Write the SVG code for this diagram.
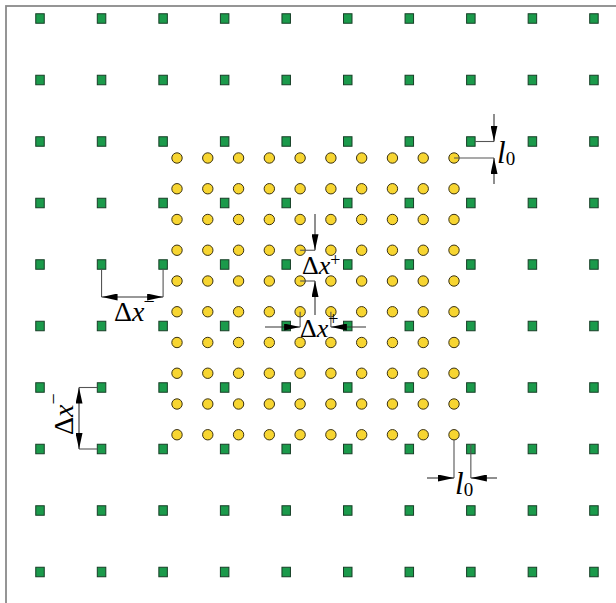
<svg xmlns="http://www.w3.org/2000/svg" xmlns:xlink="http://www.w3.org/1999/xlink" width="616" height="603" viewBox="0 0 616 603">
<style>
.sq{fill:#1b9a4b;stroke:#173f27;stroke-width:1}
.ci{fill:#f7d531;stroke:#3a3214;stroke-width:1}
.ext{stroke:#555;stroke-width:1.1;fill:none}
.dim{stroke:#333;stroke-width:1.1;fill:none}
.arr{marker-end:url(#ah)}
.dbl{marker-start:url(#ah);marker-end:url(#ah)}
.lbl{font-family:"Liberation Serif","Times New Roman",serif;fill:#000}
</style>
<defs>
<marker id="ah" viewBox="0 0 16 7" refX="16" refY="3.5" markerWidth="16" markerHeight="7" markerUnits="userSpaceOnUse" orient="auto-start-reverse">
<path d="M0,0 L16,3.5 L0,7 Z" fill="#000"/>
</marker>
<rect id="sq" class="sq" x="-4.25" y="-4.75" width="8.5" height="9.5"/>
<circle id="ci" class="ci" r="5.2"/>
</defs>
<rect x="6" y="6" width="640" height="640" fill="#fff" stroke="#8a8a8a" stroke-width="1.8"/>
<g id="squares">
<g transform="translate(0,18.5)"><use xlink:href="#sq" x="40"/><use xlink:href="#sq" x="101.55"/><use xlink:href="#sq" x="163.1"/><use xlink:href="#sq" x="224.65"/><use xlink:href="#sq" x="286.2"/><use xlink:href="#sq" x="347.75"/><use xlink:href="#sq" x="409.3"/><use xlink:href="#sq" x="470.85"/><use xlink:href="#sq" x="532.4"/><use xlink:href="#sq" x="593.95"/></g>
<g transform="translate(0,80)"><use xlink:href="#sq" x="40"/><use xlink:href="#sq" x="101.55"/><use xlink:href="#sq" x="163.1"/><use xlink:href="#sq" x="224.65"/><use xlink:href="#sq" x="286.2"/><use xlink:href="#sq" x="347.75"/><use xlink:href="#sq" x="409.3"/><use xlink:href="#sq" x="470.85"/><use xlink:href="#sq" x="532.4"/><use xlink:href="#sq" x="593.95"/></g>
<g transform="translate(0,141.5)"><use xlink:href="#sq" x="40"/><use xlink:href="#sq" x="101.55"/><use xlink:href="#sq" x="163.1"/><use xlink:href="#sq" x="224.65"/><use xlink:href="#sq" x="286.2"/><use xlink:href="#sq" x="347.75"/><use xlink:href="#sq" x="409.3"/><use xlink:href="#sq" x="470.85"/><use xlink:href="#sq" x="532.4"/><use xlink:href="#sq" x="593.95"/></g>
<g transform="translate(0,203)"><use xlink:href="#sq" x="40"/><use xlink:href="#sq" x="101.55"/><use xlink:href="#sq" x="163.1"/><use xlink:href="#sq" x="224.65"/><use xlink:href="#sq" x="286.2"/><use xlink:href="#sq" x="347.75"/><use xlink:href="#sq" x="409.3"/><use xlink:href="#sq" x="470.85"/><use xlink:href="#sq" x="532.4"/><use xlink:href="#sq" x="593.95"/></g>
<g transform="translate(0,264.5)"><use xlink:href="#sq" x="40"/><use xlink:href="#sq" x="101.55"/><use xlink:href="#sq" x="163.1"/><use xlink:href="#sq" x="224.65"/><use xlink:href="#sq" x="286.2"/><use xlink:href="#sq" x="347.75"/><use xlink:href="#sq" x="409.3"/><use xlink:href="#sq" x="470.85"/><use xlink:href="#sq" x="532.4"/><use xlink:href="#sq" x="593.95"/></g>
<g transform="translate(0,326)"><use xlink:href="#sq" x="40"/><use xlink:href="#sq" x="101.55"/><use xlink:href="#sq" x="163.1"/><use xlink:href="#sq" x="224.65"/><use xlink:href="#sq" x="286.2"/><use xlink:href="#sq" x="347.75"/><use xlink:href="#sq" x="409.3"/><use xlink:href="#sq" x="470.85"/><use xlink:href="#sq" x="532.4"/><use xlink:href="#sq" x="593.95"/></g>
<g transform="translate(0,387.5)"><use xlink:href="#sq" x="40"/><use xlink:href="#sq" x="101.55"/><use xlink:href="#sq" x="163.1"/><use xlink:href="#sq" x="224.65"/><use xlink:href="#sq" x="286.2"/><use xlink:href="#sq" x="347.75"/><use xlink:href="#sq" x="409.3"/><use xlink:href="#sq" x="470.85"/><use xlink:href="#sq" x="532.4"/><use xlink:href="#sq" x="593.95"/></g>
<g transform="translate(0,449)"><use xlink:href="#sq" x="40"/><use xlink:href="#sq" x="101.55"/><use xlink:href="#sq" x="163.1"/><use xlink:href="#sq" x="224.65"/><use xlink:href="#sq" x="286.2"/><use xlink:href="#sq" x="347.75"/><use xlink:href="#sq" x="409.3"/><use xlink:href="#sq" x="470.85"/><use xlink:href="#sq" x="532.4"/><use xlink:href="#sq" x="593.95"/></g>
<g transform="translate(0,510.5)"><use xlink:href="#sq" x="40"/><use xlink:href="#sq" x="101.55"/><use xlink:href="#sq" x="163.1"/><use xlink:href="#sq" x="224.65"/><use xlink:href="#sq" x="286.2"/><use xlink:href="#sq" x="347.75"/><use xlink:href="#sq" x="409.3"/><use xlink:href="#sq" x="470.85"/><use xlink:href="#sq" x="532.4"/><use xlink:href="#sq" x="593.95"/></g>
<g transform="translate(0,572)"><use xlink:href="#sq" x="40"/><use xlink:href="#sq" x="101.55"/><use xlink:href="#sq" x="163.1"/><use xlink:href="#sq" x="224.65"/><use xlink:href="#sq" x="286.2"/><use xlink:href="#sq" x="347.75"/><use xlink:href="#sq" x="409.3"/><use xlink:href="#sq" x="470.85"/><use xlink:href="#sq" x="532.4"/><use xlink:href="#sq" x="593.95"/></g>
</g>
<g id="circles">
<g transform="translate(0,158)"><use xlink:href="#ci" x="177"/><use xlink:href="#ci" x="207.78"/><use xlink:href="#ci" x="238.56"/><use xlink:href="#ci" x="269.33"/><use xlink:href="#ci" x="300.11"/><use xlink:href="#ci" x="330.89"/><use xlink:href="#ci" x="361.67"/><use xlink:href="#ci" x="392.44"/><use xlink:href="#ci" x="423.22"/><use xlink:href="#ci" x="454"/></g>
<g transform="translate(0,188.75)"><use xlink:href="#ci" x="177"/><use xlink:href="#ci" x="207.78"/><use xlink:href="#ci" x="238.56"/><use xlink:href="#ci" x="269.33"/><use xlink:href="#ci" x="300.11"/><use xlink:href="#ci" x="330.89"/><use xlink:href="#ci" x="361.67"/><use xlink:href="#ci" x="392.44"/><use xlink:href="#ci" x="423.22"/><use xlink:href="#ci" x="454"/></g>
<g transform="translate(0,219.5)"><use xlink:href="#ci" x="177"/><use xlink:href="#ci" x="207.78"/><use xlink:href="#ci" x="238.56"/><use xlink:href="#ci" x="269.33"/><use xlink:href="#ci" x="300.11"/><use xlink:href="#ci" x="330.89"/><use xlink:href="#ci" x="361.67"/><use xlink:href="#ci" x="392.44"/><use xlink:href="#ci" x="423.22"/><use xlink:href="#ci" x="454"/></g>
<g transform="translate(0,250.25)"><use xlink:href="#ci" x="177"/><use xlink:href="#ci" x="207.78"/><use xlink:href="#ci" x="238.56"/><use xlink:href="#ci" x="269.33"/><use xlink:href="#ci" x="300.11"/><use xlink:href="#ci" x="330.89"/><use xlink:href="#ci" x="361.67"/><use xlink:href="#ci" x="392.44"/><use xlink:href="#ci" x="423.22"/><use xlink:href="#ci" x="454"/></g>
<g transform="translate(0,281)"><use xlink:href="#ci" x="177"/><use xlink:href="#ci" x="207.78"/><use xlink:href="#ci" x="238.56"/><use xlink:href="#ci" x="269.33"/><use xlink:href="#ci" x="300.11"/><use xlink:href="#ci" x="330.89"/><use xlink:href="#ci" x="361.67"/><use xlink:href="#ci" x="392.44"/><use xlink:href="#ci" x="423.22"/><use xlink:href="#ci" x="454"/></g>
<g transform="translate(0,311.75)"><use xlink:href="#ci" x="177"/><use xlink:href="#ci" x="207.78"/><use xlink:href="#ci" x="238.56"/><use xlink:href="#ci" x="269.33"/><use xlink:href="#ci" x="300.11"/><use xlink:href="#ci" x="330.89"/><use xlink:href="#ci" x="361.67"/><use xlink:href="#ci" x="392.44"/><use xlink:href="#ci" x="423.22"/><use xlink:href="#ci" x="454"/></g>
<g transform="translate(0,342.5)"><use xlink:href="#ci" x="177"/><use xlink:href="#ci" x="207.78"/><use xlink:href="#ci" x="238.56"/><use xlink:href="#ci" x="269.33"/><use xlink:href="#ci" x="300.11"/><use xlink:href="#ci" x="330.89"/><use xlink:href="#ci" x="361.67"/><use xlink:href="#ci" x="392.44"/><use xlink:href="#ci" x="423.22"/><use xlink:href="#ci" x="454"/></g>
<g transform="translate(0,373.25)"><use xlink:href="#ci" x="177"/><use xlink:href="#ci" x="207.78"/><use xlink:href="#ci" x="238.56"/><use xlink:href="#ci" x="269.33"/><use xlink:href="#ci" x="300.11"/><use xlink:href="#ci" x="330.89"/><use xlink:href="#ci" x="361.67"/><use xlink:href="#ci" x="392.44"/><use xlink:href="#ci" x="423.22"/><use xlink:href="#ci" x="454"/></g>
<g transform="translate(0,404)"><use xlink:href="#ci" x="177"/><use xlink:href="#ci" x="207.78"/><use xlink:href="#ci" x="238.56"/><use xlink:href="#ci" x="269.33"/><use xlink:href="#ci" x="300.11"/><use xlink:href="#ci" x="330.89"/><use xlink:href="#ci" x="361.67"/><use xlink:href="#ci" x="392.44"/><use xlink:href="#ci" x="423.22"/><use xlink:href="#ci" x="454"/></g>
<g transform="translate(0,434.75)"><use xlink:href="#ci" x="177"/><use xlink:href="#ci" x="207.78"/><use xlink:href="#ci" x="238.56"/><use xlink:href="#ci" x="269.33"/><use xlink:href="#ci" x="300.11"/><use xlink:href="#ci" x="330.89"/><use xlink:href="#ci" x="361.67"/><use xlink:href="#ci" x="392.44"/><use xlink:href="#ci" x="423.22"/><use xlink:href="#ci" x="454"/></g>
</g>
<g id="connectors">
<line class="ext" x1="475.1" y1="141.5" x2="494" y2="141.5"/>
<line class="ext" x1="454" y1="158" x2="494" y2="158"/>
<line class="dim arr" x1="494" y1="114" x2="494" y2="141.5"/>
<line class="dim arr" x1="494" y1="184" x2="494" y2="158"/>
<line class="ext" x1="300.11" y1="250.25" x2="315" y2="250.25"/>
<line class="ext" x1="300.11" y1="281" x2="315" y2="281"/>
<line class="dim arr" x1="315" y1="214" x2="315" y2="250.25"/>
<line class="dim arr" x1="315" y1="315" x2="315" y2="281"/>
<line class="ext" x1="300.11" y1="311.75" x2="300.11" y2="327"/>
<line class="ext" x1="330.89" y1="311.75" x2="330.89" y2="327"/>
<line class="dim arr" x1="265" y1="327" x2="300.11" y2="327"/>
<line class="dim arr" x1="366" y1="327" x2="330.89" y2="327"/>
<line class="ext" x1="101.55" y1="269.25" x2="101.55" y2="297"/>
<line class="ext" x1="163.1" y1="269.25" x2="163.1" y2="297"/>
<line class="dim dbl" x1="101.55" y1="297" x2="163.1" y2="297"/>
<line class="ext" x1="97.3" y1="387.5" x2="79" y2="387.5"/>
<line class="ext" x1="97.3" y1="449" x2="79" y2="449"/>
<line class="dim dbl" x1="79" y1="387.5" x2="79" y2="449"/>
<line class="ext" x1="454" y1="440" x2="454" y2="478"/>
<line class="ext" x1="470.85" y1="444" x2="470.85" y2="478"/>
<line class="dim arr" x1="427" y1="478" x2="454" y2="478"/>
<line class="dim arr" x1="497" y1="478" x2="470.85" y2="478"/>
</g>
<g id="labels">
<text class="lbl" x="497" y="163" font-size="31"><tspan font-style="italic">l</tspan><tspan font-size="19" dy="2">0</tspan></text>
<text class="lbl" x="302" y="274" font-size="26">Δ<tspan font-style="italic">x</tspan><tspan font-size="18" dy="-8">+</tspan></text>
<text class="lbl" x="300" y="337" font-size="26">Δ<tspan font-style="italic">x</tspan><tspan font-size="18" dy="-12">+</tspan></text>
<text class="lbl" x="114" y="321" font-size="28">Δ<tspan font-style="italic">x</tspan><tspan font-size="20" dx="-1" dy="-13">−</tspan></text>
<text class="lbl" transform="translate(73,435) rotate(-90)" font-size="28">Δ<tspan font-style="italic">x</tspan><tspan font-size="20" dy="-13">−</tspan></text>
<text class="lbl" x="455" y="494" font-size="31"><tspan font-style="italic">l</tspan><tspan font-size="19" dy="2">0</tspan></text>
</g>
</svg>
